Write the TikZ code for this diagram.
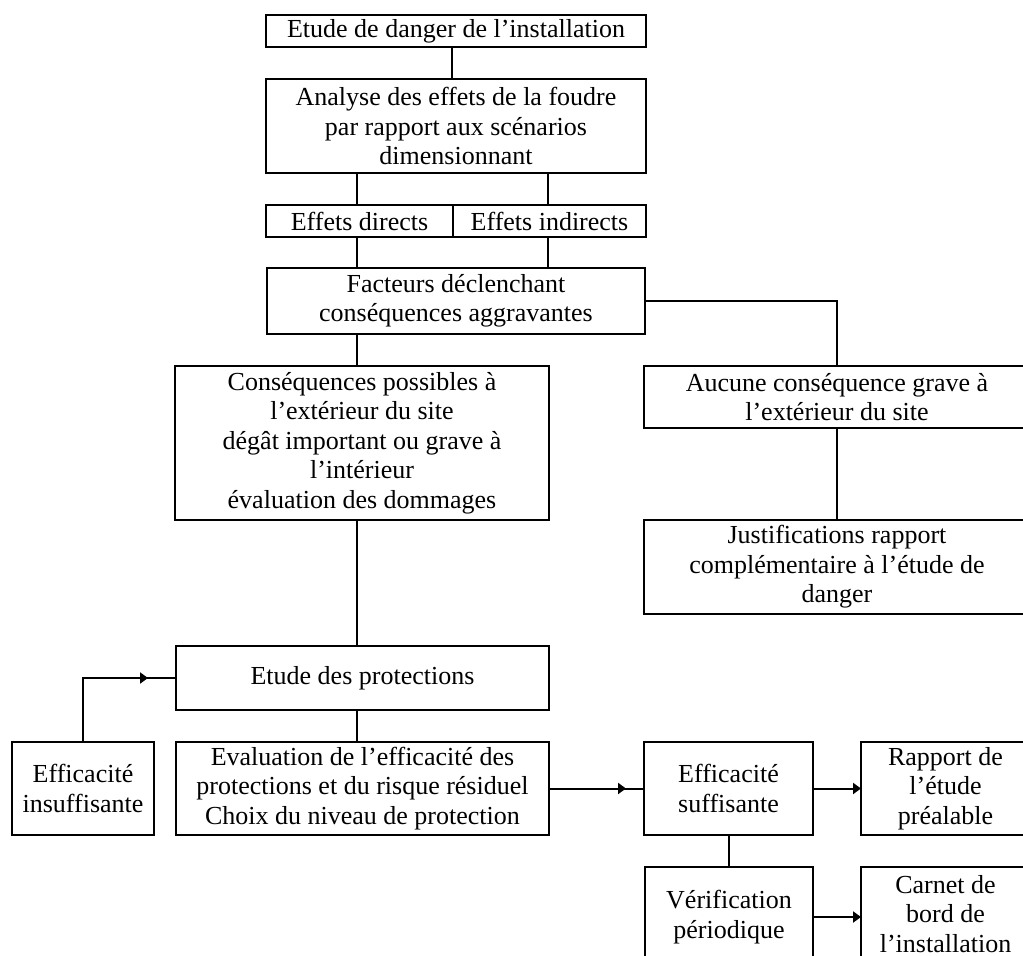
\documentclass[tikz,border=0pt]{standalone}
\usepackage{fontspec}
\setmainfont{Liberation Serif}
\usetikzlibrary{arrows.meta,decorations.markings}
\tikzset{
  box/.style={draw, line width=2pt, inner sep=0pt, align=center,
    font=\fontsize{26}{29.5}\selectfont},
  link/.style={line width=2pt},
  tipend/.style={link, -{Triangle[length=8pt,width=11pt]}, shorten >=-1pt},
  midtip/.style={link, postaction={decorate}, decoration={markings,
    mark=at position #1 with {\arrow{Triangle[length=8pt,width=11pt]}}}}
}
\begin{document}
\begin{tikzpicture}[x=1pt,y=-1pt]
\useasboundingbox (0,0) rectangle (1023,956);
\node[box, minimum width=380pt, minimum height=32pt] (top) at (456,31) {Etude de danger de l’installation};
\node[box, minimum width=380pt, minimum height=94pt] (analyse) at (456,126) {Analyse des effets de la foudre\\par rapport aux scénarios\\dimensionnant};
\node[box, minimum width=187pt, minimum height=32pt] (direct) at (359.5,221) {Effets directs};
\node[box, minimum width=193pt, minimum height=32pt] (indirect) at (549.5,221) {Effets indirects};
\node[box, minimum width=378pt, minimum height=66pt] (facteurs) at (456,301) {Facteurs déclenchant\\conséquences aggravantes};
\node[box, minimum width=374pt, minimum height=154pt] (conseq) at (362,443) {Conséquences possibles à\\l’extérieur du site\\dégât important ou grave à\\l’intérieur\\évaluation des dommages};
\node[box, minimum width=386pt, minimum height=62pt] (aucune) at (837,397) {Aucune conséquence grave à\\l’extérieur du site};
\node[box, minimum width=386pt, minimum height=94pt] (justif) at (837,567) {Justifications rapport\\complémentaire à l’étude de\\danger};
\node[box, minimum width=373pt, minimum height=64pt] (etude) at (362.5,678) {Etude des protections};
\node[box, minimum width=142pt, minimum height=93pt] (insuf) at (83,788.5) {Efficacité\\insuffisante};
\node[box, minimum width=373pt, minimum height=93pt] (eval) at (362.5,788.5) {Evaluation de l’efficacité des\\protections et du risque résiduel\\Choix du niveau de protection};
\node[box, minimum width=169pt, minimum height=93pt] (suff) at (728.5,788.5) {Efficacité\\suffisante};
\node[box, minimum width=169pt, minimum height=93pt] (rapport) at (945.5,788.5) {Rapport de\\l’étude\\préalable};
\node[box, minimum width=168pt, minimum height=100pt] (verif) at (729,917) {Vérification\\périodique};
\node[box, minimum width=169pt, minimum height=94pt] (carnet) at (945.5,914) {Carnet de\\bord de\\l’installation};

\coordinate (xl) at (357,0);
\coordinate (xr) at (548,0);
\draw[link] (top.south -| indirect.west) -- (analyse.north -| indirect.west);
\draw[link] (analyse.south -| xl) -- (direct.north -| xl);
\draw[link] (analyse.south -| xr) -- (indirect.north -| xr);
\draw[link] (direct.south -| xl) -- (facteurs.north -| xl);
\draw[link] (indirect.south -| xr) -- (facteurs.north -| xr);
\draw[link] (facteurs.south -| xl) -- (conseq.north -| xl);
\draw[link] (facteurs.east) -| (aucune.north);
\draw[link] (aucune.south) -- (justif.north);
\draw[link] (conseq.south -| xl) -- (etude.north -| xl);
\draw[link] (etude.south -| xl) -- (eval.north -| xl);
\draw[midtip=-27pt] (insuf.north) |- (etude.west);
\draw[midtip=-17pt] (eval.east |- suff.west) -- (suff.west);
\draw[tipend] (suff.east) -- (rapport.west);
\draw[link] (suff.south) -- (verif.north -| suff.south);
\draw[tipend] (verif.east) -- (carnet.west |- verif.east);
\end{tikzpicture}
\end{document}
